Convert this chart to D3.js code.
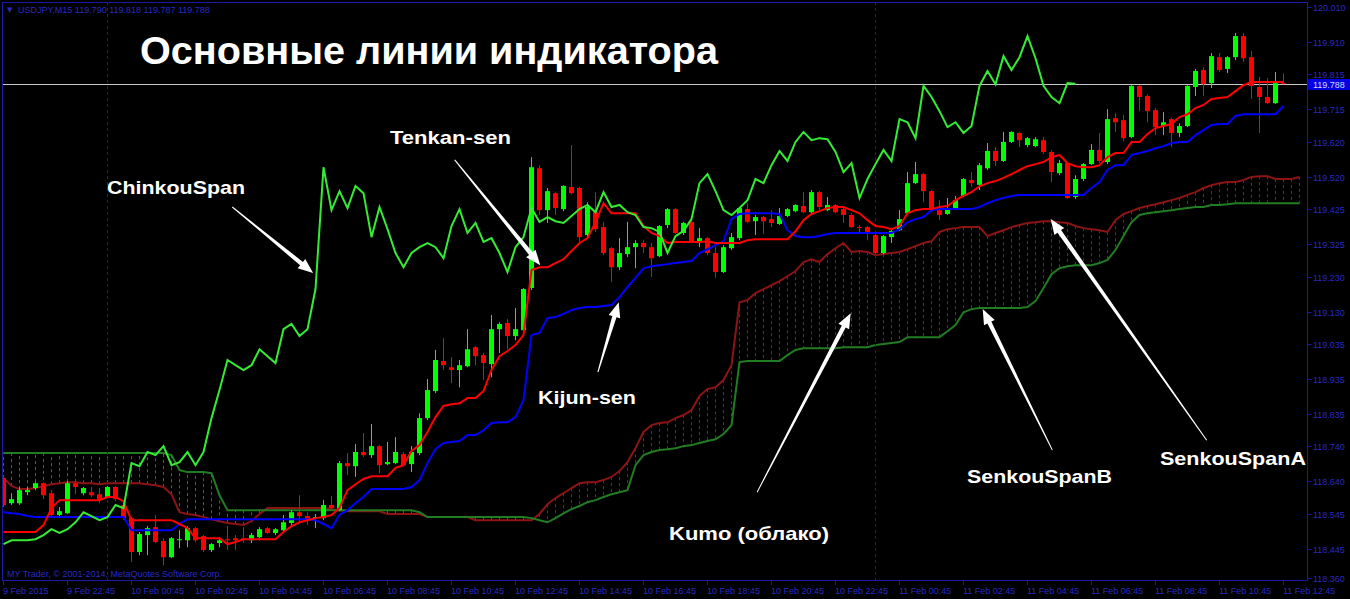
<!DOCTYPE html>
<html><head><meta charset="utf-8">
<script src="https://cdn.jsdelivr.net/npm/d3@7"></script>
<style>html,body{margin:0;padding:0;background:#000;overflow:hidden}</style>
</head><body>
<svg id="chart" width="1350" height="599"></svg>
<script>
// ---------------- DATA ----------------
const symbolInfo = "USDJPY,M15";
const lastQuote = ["119.790", "119.818", "119.787", "119.788"];
const copyrightText = "MY Trader, © 2001-2014, MetaQuotes Software Corp.";
const timeLabels = ["9 Feb 2015","9 Feb 22:45","10 Feb 00:45","10 Feb 02:45","10 Feb 04:45","10 Feb 06:45","10 Feb 08:45",
  "10 Feb 10:45","10 Feb 12:45","10 Feb 14:45","10 Feb 16:45","10 Feb 18:45","10 Feb 20:45","10 Feb 22:45",
  "11 Feb 00:45","11 Feb 02:45","11 Feb 04:45","11 Feb 06:45","11 Feb 08:45","11 Feb 10:45","11 Feb 12:45"];
const timeLabelBars = [0,8,16,24,32,40,48,56,64,72,80,88,96,104,112,120,128,136,144,152,160];
const daySeparatorBars = [13, 109];
const priceTicks = ["120.010","119.910","119.815","119.715","119.620","119.520","119.425","119.325","119.230",
  "119.130","119.035","118.935","118.835","118.740","118.640","118.545","118.445","118.360"];
const currentPrice = 119.788;

const open = [
118.649,118.576,118.576,118.608,118.620,118.634,118.605,118.542,118.547,118.634,
118.605,118.608,118.602,118.594,118.623,118.571,118.533,118.435,118.484,118.507,
118.467,118.420,118.469,118.469,118.504,118.481,118.441,118.461,118.472,118.475,
118.475,118.469,118.478,118.504,118.490,118.498,118.519,118.550,118.539,118.533,
118.533,118.571,118.556,118.692,118.683,118.724,118.715,118.741,118.689,118.692,
118.718,118.689,118.721,118.822,118.900,118.987,118.969,118.961,118.972,119.027,
119.004,118.978,119.079,119.097,119.059,119.076,119.198,119.544,119.423,119.472,
119.426,119.490,119.487,119.351,119.417,119.374,119.313,119.258,119.296,119.316,
119.328,119.316,119.290,119.380,119.426,119.357,119.389,119.331,119.342,119.299,
119.244,119.313,119.342,119.426,119.391,119.403,119.397,119.383,119.406,119.420,
119.435,119.417,119.475,119.423,119.438,119.426,119.409,119.374,119.374,119.351,
119.299,119.345,119.365,119.414,119.501,119.527,119.478,119.423,119.412,119.429,
119.464,119.510,119.496,119.544,119.594,119.565,119.620,119.646,119.611,119.608,
119.625,119.591,119.530,119.559,119.461,119.513,119.556,119.597,119.562,119.689,
119.683,119.634,119.782,119.753,119.712,119.666,119.686,119.646,119.666,119.779,
119.828,119.790,119.865,119.831,119.865,119.926,119.865,119.779,119.750,119.732,
119.790];
const high = [
118.654,118.605,118.623,118.623,118.637,118.637,118.614,118.565,118.640,118.640,
118.623,118.623,118.620,118.626,118.626,118.585,118.536,118.493,118.510,118.542,
118.475,118.478,118.498,118.510,118.507,118.484,118.461,118.478,118.510,118.484,
118.507,118.490,118.507,118.507,118.504,118.542,118.556,118.599,118.550,118.545,
118.585,118.597,118.698,118.721,118.747,118.779,118.805,118.744,118.753,118.767,
118.724,118.741,118.836,118.935,119.019,119.053,118.998,118.990,119.079,119.030,
119.010,119.120,119.099,119.108,119.140,119.198,119.576,119.553,119.487,119.475,
119.495,119.611,119.490,119.446,119.475,119.389,119.316,119.342,119.389,119.336,
119.336,119.328,119.380,119.429,119.429,119.389,119.394,119.371,119.345,119.316,
119.322,119.357,119.432,119.443,119.409,119.406,119.423,119.429,119.429,119.440,
119.475,119.481,119.478,119.461,119.440,119.432,119.414,119.380,119.377,119.357,
119.351,119.368,119.423,119.533,119.562,119.530,119.481,119.452,119.458,119.464,
119.516,119.533,119.559,119.617,119.605,119.649,119.651,119.649,119.634,119.634,
119.634,119.597,119.568,119.562,119.524,119.559,119.614,119.646,119.715,119.703,
119.698,119.784,119.784,119.758,119.718,119.706,119.689,119.674,119.784,119.831,
119.836,119.877,119.877,119.868,119.935,119.935,119.883,119.808,119.805,119.822,
119.818];
const low = [
118.565,118.571,118.571,118.599,118.614,118.588,118.536,118.539,118.545,118.602,
118.599,118.594,118.576,118.591,118.582,118.527,118.406,118.426,118.426,118.461,
118.397,118.418,118.446,118.449,118.464,118.435,118.435,118.449,118.441,118.441,
118.461,118.461,118.475,118.487,118.484,118.493,118.507,118.521,118.513,118.504,
118.527,118.556,118.553,118.657,118.652,118.710,118.707,118.663,118.686,118.689,
118.683,118.666,118.715,118.816,118.894,118.961,118.923,118.911,118.969,118.975,
118.932,118.940,119.010,119.021,119.047,119.073,119.192,119.409,119.386,119.409,
119.420,119.469,119.328,119.345,119.360,119.293,119.215,119.250,119.287,119.255,
119.299,119.230,119.287,119.371,119.354,119.351,119.328,119.316,119.293,119.227,
119.241,119.308,119.336,119.386,119.351,119.354,119.374,119.380,119.403,119.417,
119.414,119.414,119.423,119.420,119.414,119.386,119.371,119.360,119.336,119.296,
119.296,119.328,119.363,119.409,119.498,119.446,119.417,119.394,119.409,119.423,
119.461,119.490,119.481,119.539,119.550,119.562,119.617,119.605,119.605,119.605,
119.585,119.504,119.524,119.455,119.455,119.507,119.553,119.559,119.556,119.649,
119.622,119.631,119.709,119.677,119.640,119.640,119.605,119.634,119.663,119.753,
119.753,119.776,119.822,119.819,119.857,119.851,119.744,119.646,119.730,119.730,
119.787];
const close = [
118.571,118.588,118.614,118.614,118.634,118.599,118.542,118.553,118.634,118.623,
118.620,118.599,118.585,118.623,118.588,118.533,118.435,118.487,118.504,118.464,
118.420,118.475,118.472,118.504,118.469,118.441,118.458,118.469,118.469,118.469,
118.472,118.484,118.501,118.490,118.501,118.521,118.550,118.539,118.527,118.536,
118.571,118.562,118.692,118.683,118.724,118.715,118.741,118.686,118.695,118.724,
118.686,118.724,118.822,118.903,118.990,118.975,118.961,118.975,119.021,119.001,
118.981,119.079,119.094,119.059,119.079,119.195,119.547,119.423,119.478,119.429,
119.493,119.472,119.345,119.432,119.368,119.299,119.258,119.299,119.316,119.328,
119.316,119.284,119.377,119.426,119.357,119.386,119.331,119.342,119.299,119.244,
119.316,119.345,119.429,119.389,119.403,119.391,119.386,119.406,119.426,119.438,
119.417,119.475,119.432,119.438,119.417,119.409,119.374,119.371,119.360,119.299,
119.348,119.363,119.397,119.501,119.527,119.478,119.423,119.409,119.429,119.452,
119.513,119.501,119.553,119.594,119.565,119.620,119.649,119.625,119.631,119.628,
119.591,119.533,119.559,119.458,119.513,119.556,119.597,119.565,119.686,119.677,
119.631,119.782,119.750,119.709,119.663,119.677,119.646,119.666,119.782,119.825,
119.787,119.868,119.828,119.865,119.926,119.862,119.782,119.750,119.732,119.790,
119.788];

const tenkanSen = [
118.493,118.493,118.493,118.493,118.493,118.513,118.562,118.585,118.585,118.585,
118.585,118.585,118.585,118.594,118.594,118.582,118.527,118.527,118.527,118.527,
118.527,118.527,118.516,118.504,118.475,118.475,118.475,118.475,118.458,118.464,
118.472,118.472,118.472,118.472,118.472,118.493,118.510,118.521,118.527,118.533,
118.536,118.542,118.562,118.614,118.631,118.646,118.654,118.654,118.654,118.678,
118.686,118.727,118.744,118.782,118.825,118.857,118.862,118.865,118.880,118.880,
118.900,118.961,119.001,119.016,119.033,119.062,119.250,119.258,119.258,119.270,
119.281,119.305,119.328,119.342,119.388,119.443,119.414,119.414,119.414,119.414,
119.377,119.357,119.348,119.328,119.331,119.331,119.331,119.331,119.333,119.328,
119.328,119.328,119.328,119.336,119.339,119.339,119.339,119.339,119.339,119.362,
119.394,119.412,119.420,119.429,119.432,119.432,119.423,119.414,119.394,119.377,
119.374,119.368,119.377,119.414,119.423,119.426,119.426,119.432,119.435,119.452,
119.464,119.475,119.492,119.501,119.507,119.516,119.527,119.539,119.550,119.556,
119.562,119.576,119.582,119.559,119.550,119.547,119.547,119.553,119.576,119.588,
119.588,119.620,119.620,119.643,119.660,119.666,119.672,119.692,119.700,119.718,
119.727,119.744,119.747,119.750,119.767,119.784,119.793,119.793,119.793,119.793,
119.793];
const kijunSen = [
118.550,118.547,118.545,118.539,118.536,118.536,118.536,118.536,118.536,118.536,
118.536,118.536,118.536,118.536,118.536,118.536,118.498,118.498,118.498,118.498,
118.498,118.498,118.516,118.530,118.530,118.530,118.530,118.530,118.530,118.530,
118.530,118.530,118.530,118.530,118.530,118.530,118.530,118.530,118.530,118.527,
118.516,118.504,118.542,118.556,118.576,118.594,118.617,118.617,118.617,118.617,
118.617,118.623,118.643,118.692,118.732,118.750,118.753,118.756,118.773,118.773,
118.787,118.808,118.810,118.810,118.825,118.874,119.062,119.068,119.111,119.114,
119.123,119.134,119.140,119.143,119.143,119.146,119.149,119.172,119.201,119.227,
119.255,119.261,119.264,119.267,119.270,119.273,119.276,119.299,119.310,119.322,
119.333,119.397,119.412,119.414,119.414,119.414,119.414,119.412,119.365,119.348,
119.345,119.345,119.348,119.354,119.357,119.357,119.357,119.357,119.357,119.357,
119.357,119.357,119.368,119.388,119.397,119.403,119.423,119.426,119.426,119.426,
119.426,119.426,119.432,119.443,119.452,119.458,119.464,119.467,119.467,119.467,
119.467,119.467,119.467,119.467,119.467,119.467,119.487,119.504,119.539,119.553,
119.553,119.582,119.588,119.594,119.602,119.608,119.617,119.620,119.620,119.640,
119.654,119.669,119.672,119.672,119.695,119.700,119.700,119.700,119.700,119.700,
119.724];
const chinkouSpan = [
118.458,118.469,118.469,118.469,118.472,118.484,118.501,118.490,118.501,118.521,
118.550,118.539,118.527,118.536,118.571,118.562,118.692,118.683,118.724,118.715,
118.741,118.686,118.695,118.724,118.686,118.724,118.822,118.903,118.990,118.975,
118.961,118.975,119.021,119.001,118.981,119.079,119.094,119.059,119.079,119.195,
119.547,119.423,119.478,119.429,119.493,119.472,119.345,119.432,119.368,119.299,
119.258,119.299,119.316,119.328,119.316,119.284,119.377,119.426,119.357,119.386,
119.331,119.342,119.299,119.244,119.316,119.345,119.429,119.389,119.403,119.391,
119.386,119.406,119.426,119.438,119.417,119.475,119.432,119.438,119.417,119.409,
119.374,119.371,119.360,119.299,119.348,119.363,119.397,119.501,119.527,119.478,
119.423,119.409,119.429,119.452,119.513,119.501,119.553,119.594,119.565,119.620,
119.649,119.625,119.631,119.628,119.591,119.533,119.559,119.458,119.513,119.556,
119.597,119.565,119.686,119.677,119.631,119.782,119.750,119.709,119.663,119.677,
119.646,119.666,119.782,119.825,119.787,119.868,119.828,119.865,119.926,119.862,
119.782,119.750,119.732,119.790,119.788];
const senkouSpanA = [
118.649,118.626,118.617,118.617,118.620,118.626,118.631,118.634,118.637,118.637,
118.634,118.634,118.631,118.634,118.634,118.634,118.634,118.634,118.631,118.628,
118.623,118.602,118.550,118.545,118.542,118.536,118.530,118.524,118.519,118.516,
118.513,118.524,118.545,118.562,118.562,118.562,118.562,118.562,118.562,118.562,
118.562,118.559,118.556,118.553,118.553,118.553,118.553,118.553,118.545,118.545,
118.545,118.545,118.545,118.536,118.536,118.536,118.536,118.536,118.536,118.527,
118.527,118.527,118.527,118.527,118.527,118.527,118.527,118.545,118.573,118.591,
118.605,118.620,118.634,118.637,118.637,118.643,118.652,118.669,118.695,118.735,
118.782,118.802,118.808,118.810,118.822,118.831,118.845,118.886,118.906,118.911,
118.932,118.975,119.157,119.163,119.183,119.195,119.206,119.218,119.232,119.247,
119.273,119.281,119.273,119.296,119.313,119.328,119.302,119.305,119.302,119.293,
119.296,119.299,119.302,119.310,119.319,119.328,119.333,119.360,119.368,119.371,
119.374,119.374,119.374,119.348,119.357,119.365,119.374,119.380,119.386,119.388,
119.391,119.391,119.388,119.386,119.377,119.371,119.368,119.365,119.360,119.394,
119.412,119.420,119.429,119.435,119.440,119.446,119.452,119.458,119.467,119.475,
119.487,119.495,119.501,119.504,119.504,119.510,119.519,119.521,119.521,119.513,
119.513,119.513,119.519];
const senkouSpanB = [
118.721,118.721,118.721,118.721,118.721,118.721,118.721,118.721,118.721,118.721,
118.721,118.721,118.721,118.721,118.721,118.721,118.721,118.721,118.721,118.721,
118.721,118.715,118.672,118.666,118.666,118.666,118.663,118.599,118.556,118.556,
118.556,118.556,118.556,118.556,118.556,118.556,118.556,118.556,118.556,118.556,
118.556,118.556,118.556,118.556,118.556,118.556,118.556,118.556,118.556,118.556,
118.556,118.556,118.550,118.536,118.536,118.536,118.536,118.536,118.536,118.536,
118.536,118.536,118.536,118.536,118.536,118.536,118.533,118.527,118.521,118.533,
118.547,118.559,118.568,118.579,118.585,118.594,118.602,118.608,118.614,118.686,
118.715,118.724,118.730,118.732,118.735,118.741,118.744,118.750,118.756,118.761,
118.776,118.802,118.984,118.987,118.987,118.987,118.987,118.987,119.004,119.019,
119.024,119.024,119.024,119.024,119.024,119.027,119.027,119.027,119.027,119.033,
119.036,119.039,119.042,119.056,119.056,119.056,119.056,119.056,119.073,119.091,
119.128,119.137,119.140,119.140,119.140,119.140,119.140,119.140,119.143,119.160,
119.198,119.238,119.255,119.261,119.264,119.264,119.264,119.270,119.279,119.308,
119.348,119.388,119.409,119.414,119.417,119.420,119.423,119.426,119.429,119.432,
119.432,119.438,119.438,119.440,119.443,119.443,119.443,119.443,119.443,119.443,
119.443,119.443,119.443];

// annotations anchored in data space (bar index, price)
const noteTexts = ["Основные линии индикатора","ChinkouSpan","Tenkan-sen","Kijun-sen","Kumo (облако)","SenkouSpanB","SenkouSpanA"];
const noteBar = [17.06, 12.94, 48.31, 66.81, 83.19, 120.44, 144.56];
const notePrice = [119.845, 119.469, 119.614, 118.862, 118.469, 118.634, 118.686];
const arrowFromBar = [28.6, 56.4, 74.3, 94.2, 131.1, 150.4];
const arrowFromPrice = [119.432, 119.568, 118.955, 118.608, 118.730, 118.758];
const arrowToBar = [38.7, 67.1, 76.9, 105.9, 122.4, 130.9];
const arrowToPrice = [119.241, 119.264, 119.157, 119.125, 119.137, 119.397];

// ---------------- LAYOUT / STYLE ----------------
const svg = d3.select("#chart");
const W = 1350, H = 599;
const plotL = 2, plotT = 2, plotR = 1307, plotB = 580;
const axisLine = "#1a1aa6", axisText = "#2a2ac4";
const fontAxis = "'Liberation Sans', Arial, sans-serif";
const bull = "#00ff00", bear = "#ff0000";
const colA = "#8e1414", colB = "#217d21";

const x = d3.scaleLinear().domain([0, 160]).range([3.5, 1283.5]);
const y = d3.scaleLinear().domain([118.360, 120.010]).range([578, 7]);

svg.append("rect").attr("width", W).attr("height", H).attr("fill", "#000");

svg.append("defs").append("clipPath").attr("id", "plotclip")
  .append("rect").attr("x", plotL).attr("y", plotT).attr("width", plotR - plotL).attr("height", plotB - plotT);
const g = svg.append("g").attr("clip-path", "url(#plotclip)");

// Kumo hatch
const cloud = senkouSpanA.map((a, i) => ({i, a, b: senkouSpanB[i]}));
g.append("g").selectAll("line").data(cloud).join("line")
  .attr("x1", d => x(d.i)).attr("x2", d => x(d.i))
  .attr("y1", d => y(d.a)).attr("y2", d => y(d.b))
  .attr("stroke", d => d.a >= d.b ? "#a01616" : "#1f801f")
  .attr("stroke-width", 1).attr("stroke-dasharray", "3,3");

const lineGen = d3.line().x((d, i) => x(i)).y(d => y(d));
g.append("path").attr("d", lineGen(senkouSpanA)).attr("fill", "none").attr("stroke", colA).attr("stroke-width", 2);
g.append("path").attr("d", lineGen(senkouSpanB)).attr("fill", "none").attr("stroke", colB).attr("stroke-width", 2);

// day separators
g.append("g").selectAll("line").data(daySeparatorBars).join("line")
  .attr("x1", d => x(d)).attr("x2", d => x(d)).attr("y1", plotT).attr("y2", plotB)
  .attr("stroke", axisLine).attr("stroke-width", 1).attr("stroke-dasharray", "3,3");

// current price line
g.append("line").attr("x1", plotL).attr("x2", plotR)
  .attr("y1", Math.round(y(currentPrice)) + 0.5).attr("y2", Math.round(y(currentPrice)) + 0.5)
  .attr("stroke", "#c8c8c8").attr("stroke-width", 1);

// candles
const bars = open.map((o, i) => ({i, o, h: high[i], l: low[i], c: close[i]}));
g.append("g").selectAll("line").data(bars).join("line")
  .attr("x1", d => x(d.i)).attr("x2", d => x(d.i))
  .attr("y1", d => y(d.h)).attr("y2", d => y(d.l))
  .attr("stroke", d => d.c >= d.o ? bull : bear).attr("stroke-width", 1);
g.append("g").selectAll("rect").data(bars).join("rect")
  .attr("x", d => x(d.i) - 2.5).attr("width", 5)
  .attr("y", d => y(Math.max(d.o, d.c)))
  .attr("height", d => Math.max(1, Math.abs(y(d.o) - y(d.c))))
  .attr("fill", d => d.c >= d.o ? bull : bear);

// indicator lines
g.append("path").attr("d", lineGen(kijunSen)).attr("fill", "none").attr("stroke", "#0000ff").attr("stroke-width", 2);
g.append("path").attr("d", lineGen(tenkanSen)).attr("fill", "none").attr("stroke", "#ff0000").attr("stroke-width", 2);
g.append("path").attr("d", lineGen(chinkouSpan)).attr("fill", "none").attr("stroke", "#35ec35").attr("stroke-width", 2);

// ---------------- ANNOTATIONS ----------------
const noteSize = [39, 19, 19, 19, 19, 19, 19];
const noteLen = [578, 138, 121, 98, 160, 145, 146];
const ann = svg.append("g");
ann.selectAll("text").data(noteTexts).join("text")
  .attr("x", (d, i) => x(noteBar[i])).attr("y", (d, i) => y(notePrice[i]))
  .attr("textLength", (d, i) => noteLen[i]).attr("lengthAdjust", "spacingAndGlyphs")
  .attr("font-family", "'Liberation Sans', Arial, sans-serif").attr("font-weight", "bold")
  .attr("font-size", (d, i) => noteSize[i]).attr("fill", "#ffffff").text(d => d);

function arrowPath(x1, y1, x2, y2) {
  const dx = x2 - x1, dy = y2 - y1, L = Math.hypot(dx, dy);
  const ux = dx / L, uy = dy / L, px = -uy, py = ux;
  const headL = 15, headW = 6, neckW = 2.2, tailW = 0.5;
  const nx = x2 - ux * headL, ny = y2 - uy * headL;
  const pts = [[x1 + px * tailW, y1 + py * tailW], [nx + px * neckW, ny + py * neckW], [nx + px * headW, ny + py * headW],
    [x2, y2], [nx - px * headW, ny - py * headW], [nx - px * neckW, ny - py * neckW], [x1 - px * tailW, y1 - py * tailW]];
  return "M" + pts.map(p => p[0].toFixed(1) + "," + p[1].toFixed(1)).join("L") + "Z";
}
ann.selectAll("path").data(arrowFromBar).join("path")
  .attr("d", (d, i) => arrowPath(x(arrowFromBar[i]), y(arrowFromPrice[i]), x(arrowToBar[i]), y(arrowToPrice[i])))
  .attr("fill", "#ffffff");

// ---------------- AXES ----------------
const ax = svg.append("g").attr("font-family", fontAxis).attr("font-size", 9);
ax.append("rect").attr("x", plotL + 0.5).attr("y", plotT + 0.5).attr("width", plotR - plotL).attr("height", plotB - plotT)
  .attr("fill", "none").attr("stroke", axisLine).attr("stroke-width", 1);

// right price axis
const yt = ax.append("g").selectAll("g").data(priceTicks).join("g")
  .attr("transform", d => `translate(0,${Math.round(y(+d))})`);
yt.append("line").attr("x1", plotR + 0.5).attr("x2", plotR + 4.5).attr("y1", 0.5).attr("y2", 0.5).attr("stroke", axisLine);
yt.append("text").attr("x", plotR + 6).attr("y", 3.5).attr("fill", axisText).text(d => d);

// current price box
const cy = Math.round(y(currentPrice));
ax.append("rect").attr("x", plotR + 1).attr("y", cy - 5).attr("width", W - plotR - 1).attr("height", 11).attr("fill", "#0000e0");
ax.append("text").attr("x", plotR + 6).attr("y", cy + 4).attr("fill", "#d8d8ff").text(currentPrice.toFixed(3));

// bottom time axis
const xt = ax.append("g").selectAll("g").data(timeLabels).join("g")
  .attr("transform", (d, i) => `translate(${x(timeLabelBars[i])},0)`);
xt.append("line").attr("x1", 0).attr("x2", 0).attr("y1", plotB).attr("y2", plotB + 5).attr("stroke", axisLine);
xt.append("text").attr("x", -0.5).attr("y", 594).attr("fill", axisText).text(d => d);

// header & copyright
ax.append("text").attr("x", 7).attr("y", 12).attr("font-size", 7).attr("fill", axisText)
  .attr("font-family", "'DejaVu Sans', sans-serif").text("▼");
ax.append("text").attr("x", 18).attr("y", 13).attr("fill", axisText)
  .text(symbolInfo + "  " + lastQuote.join(" "));
ax.append("text").attr("x", 7).attr("y", 577).attr("fill", axisText).text(copyrightText);
</script>
</body></html>
